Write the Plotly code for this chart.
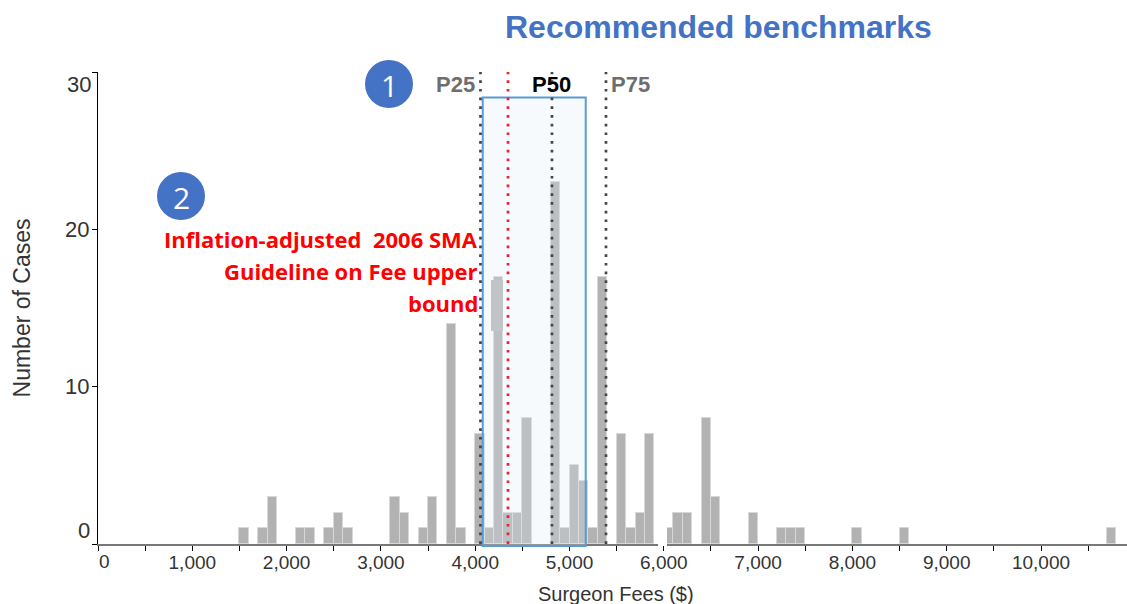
import plotly.graph_objects as go

# histogram, bins are $100 wide
bin_centers = [1550, 1750, 1850, 2150, 2250, 2450, 2550, 2650, 3150, 3250, 3450, 3550,
               3750, 3850, 4050, 4150, 4250, 4350, 4450, 4550, 4850, 4950, 5050, 5150,
               5250, 5350, 5550, 5650, 5750, 5850, 6050, 6150, 6250, 6450, 6550, 6950,
               7250, 7350, 7450, 8050, 8550, 10750]
cases = [1, 1, 3, 1, 1, 1, 2, 1, 3, 2, 1, 3,
         14, 1, 7, 1, 17, 2, 2, 8, 23, 1, 5, 4,
         1, 17, 7, 1, 2, 7, 1, 2, 2, 8, 3, 2,
         1, 1, 1, 1, 1, 1]

x_ticks = list(range(0, 11000, 500))
x_labels = [f"{v:,}" if v % 1000 == 0 and v > 0 else "" for v in x_ticks]
y_ticks = [0, 10, 20, 30]
y_labels = ["", "10", "20", ""]

p25, guideline, p50, p75 = 4056, 4348, 4814, 5387
box_low, box_high = 4080, 5172

red_lines = ["Inflation-adjusted\u00a0 2006 SMA", "Guideline on Fee upper", "bound"]
red_y = [239, 271, 303]

W, H = 1127, 604
L, R, T, B = 98, 0, 72, 60
X_MAX = (W - L) / 0.0943


def px(x):
    return (x - L) / (W - L - R)


def py(y):
    return (H - B - y) / (H - T - B)


GREY = "rgb(178,178,178)"
BLUE = "rgb(68,114,196)"
DOTS = "2.7px,6px"

fig = go.Figure()
fig.add_trace(go.Bar(x=bin_centers, y=cases, width=100,
                     marker=dict(color=GREY, line=dict(color="rgb(216,216,216)", width=1))))

shapes = []
# gap in the baseline just left of 6,000
shapes.append(dict(type="rect", xref="paper", yref="paper", x0=px(658), x1=px(667), y0=py(546), y1=py(525),
                   fillcolor="white", line_width=0, layer="above"))
shapes.append(dict(type="rect", xref="x", yref="paper", x0=box_low, x1=box_high, y0=py(546), y1=py(97.5),
                   fillcolor="rgba(222,235,247,0.25)", line=dict(color="rgb(91,155,213)", width=2), layer="above"))
# lighter patch sitting on the 4,250 bar
shapes.append(dict(type="rect", xref="paper", yref="paper", x0=px(491), x1=px(503), y0=py(331), y1=py(280),
                   fillcolor="rgb(193,197,200)", line_width=0, layer="above"))
for val, col in [(p25, "rgb(70,70,70)"), (guideline, "rgb(240,30,50)"), (p50, "rgb(70,70,70)"), (p75, "rgb(70,70,70)")]:
    shapes.append(dict(type="line", xref="x", yref="paper", x0=val, x1=val, y0=0, y1=1,
                       line=dict(color=col, width=2.7, dash=DOTS), layer="above"))
for cx, cy in [(389, 84), (181, 196)]:
    shapes.append(dict(type="circle", xref="paper", yref="paper", x0=px(cx - 24), x1=px(cx + 24),
                       y0=py(cy + 24), y1=py(cy - 24), fillcolor=BLUE, line_width=0, layer="above"))


def note(text, x, y, size, color, anchor="center", bold=False, family="Liberation Sans"):
    return dict(text=f"<b>{text}</b>" if bold else text, xref="paper", yref="paper", x=px(x), y=py(y),
                xanchor=anchor, yanchor="middle", showarrow=False,
                font=dict(size=size, color=color, family=family))


notes = [
    note("Recommended benchmarks", 718, 27, 32, BLUE, bold=True),
    note("P25", 455, 84, 22, "rgb(110,110,110)", bold=True),
    note("P50", 551, 84, 22, "black", bold=True),
    note("P75", 630, 84, 22, "rgb(110,110,110)", bold=True),
    note("1", 389, 85, 30, "white", family="Open Sans"),
    note("2", 181, 197, 30, "white", family="Open Sans"),
    note("30", 79, 84, 22, "rgb(51,51,51)"),
    note("0", 84, 530, 22, "rgb(51,51,51)"),
    note("0", 104, 561, 19, "rgb(51,51,51)"),
    note("Surgeon Fees ($)", 616, 594, 20, "rgb(51,51,51)"),
]
for line, y in zip(red_lines, red_y):
    notes.append(note(line, 480, y, 22, "red", anchor="right", bold=True, family="Open Sans"))

fig.update_layout(
    width=W, height=H,
    margin=dict(l=L, r=R, t=T, b=B, pad=0),
    paper_bgcolor="white", plot_bgcolor="white",
    showlegend=False, bargap=0,
    font=dict(family="Liberation Sans", color="rgb(51,51,51)"),
    shapes=shapes, annotations=notes,
    xaxis=dict(range=[0, X_MAX], tickmode="array", tickvals=x_ticks, ticktext=x_labels,
               ticks="outside", ticklen=5, tickcolor="black", tickfont=dict(size=19),
               ticklabelstandoff=-5,
               showgrid=False, zeroline=False, showline=True, linecolor="rgb(120,120,120)", linewidth=2),
    yaxis=dict(range=[0, 30], tickmode="array", tickvals=y_ticks, ticktext=y_labels,
               ticks="outside", ticklen=5, tickcolor="black", tickfont=dict(size=22),
               ticklabelstandoff=-2,
               showgrid=False, zeroline=False, showline=True, linecolor="black", linewidth=1,
               title=dict(text="Number of Cases", font=dict(size=23), standoff=28)),
)

fig.write_html("out.html", post_script="document.body.style.margin='0';", config={"displayModeBar": False})
